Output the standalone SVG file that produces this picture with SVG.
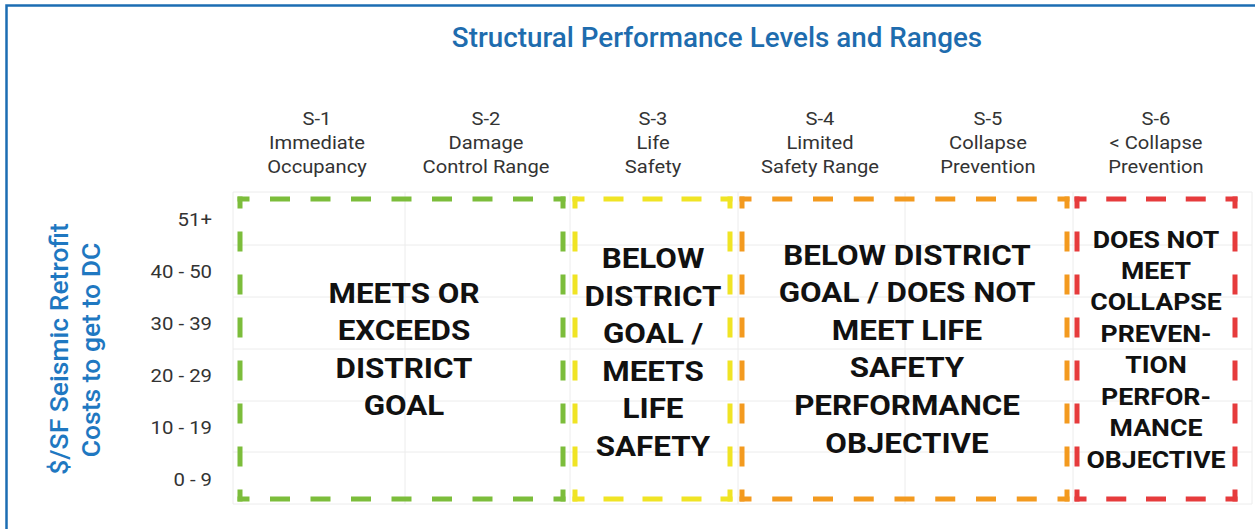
<svg xmlns="http://www.w3.org/2000/svg" width="1255" height="529" viewBox="0 0 1255 529">
<style>
.frame{fill:none;stroke:#1c6db3;stroke-width:2.5}
.title{font-family:Roboto,"Liberation Sans",sans-serif;font-weight:500;font-size:27.8px;fill:#1e6cae}
.ylab{font-family:Roboto,"Liberation Sans",sans-serif;font-weight:500;font-size:26.5px;fill:#1f78c1}
.hdr{font-family:Roboto,"Liberation Sans",sans-serif;font-size:18.5px;fill:#333;text-anchor:middle}
.row{font-family:Roboto,"Liberation Sans",sans-serif;font-size:18.5px;fill:#333;text-anchor:end}
.big{font-family:Roboto,"Liberation Sans",sans-serif;font-weight:700;font-size:28.5px;fill:#111;text-anchor:middle}
.med{font-family:Roboto,"Liberation Sans",sans-serif;font-weight:700;font-size:24.5px;fill:#111;text-anchor:middle}
.grid line{stroke:#ececec;stroke-width:1}
.b{stroke-width:5;fill:none}
.g{stroke:#7cbd3b}.y{stroke:#f0e424}.o{stroke:#f39a1f}.r{stroke:#e63b3c}
</style>
<rect class="frame" x="6.5" y="5.5" width="1260" height="540"/>
<text class="title" x="717" y="47" text-anchor="middle">Structural Performance Levels and Ranges</text>
<g id="ylabel" class="ylab" text-anchor="middle">
<text transform="translate(68,349) rotate(-90)">$/SF Seismic Retrofit</text>
<text transform="translate(100,350) rotate(-90)">Costs to get to DC</text>
</g>
<g id="headers" class="hdr">
<text transform="translate(317 0) scale(1.09 1)"><tspan x="0" y="125">S-1</tspan><tspan x="0" y="149">Immediate</tspan><tspan x="0" y="173">Occupancy</tspan></text>
<text transform="translate(486 0) scale(1.09 1)"><tspan x="0" y="125">S-2</tspan><tspan x="0" y="149">Damage</tspan><tspan x="0" y="173">Control Range</tspan></text>
<text transform="translate(653 0) scale(1.09 1)"><tspan x="0" y="125">S-3</tspan><tspan x="0" y="149">Life</tspan><tspan x="0" y="173">Safety</tspan></text>
<text transform="translate(820 0) scale(1.09 1)"><tspan x="0" y="125">S-4</tspan><tspan x="0" y="149">Limited</tspan><tspan x="0" y="173">Safety Range</tspan></text>
<text transform="translate(988 0) scale(1.09 1)"><tspan x="0" y="125">S-5</tspan><tspan x="0" y="149">Collapse</tspan><tspan x="0" y="173">Prevention</tspan></text>
<text transform="translate(1156 0) scale(1.09 1)"><tspan x="0" y="125">S-6</tspan><tspan x="0" y="149">&lt; Collapse</tspan><tspan x="0" y="173">Prevention</tspan></text>
</g>
<g id="rows" class="row">
<text transform="translate(212 0) scale(1.1 1)"><tspan x="0" y="226">51+</tspan><tspan x="0" y="278">40 - 50</tspan><tspan x="0" y="330">30 - 39</tspan><tspan x="0" y="382">20 - 29</tspan><tspan x="0" y="434">10 - 19</tspan><tspan x="0" y="486">0 - 9</tspan></text>
</g>
<g id="grid" class="grid">
<line x1="233" y1="192" x2="1252" y2="192"/>
<line x1="233" y1="245" x2="1252" y2="245"/>
<line x1="233" y1="297" x2="1252" y2="297"/>
<line x1="233" y1="349" x2="1252" y2="349"/>
<line x1="233" y1="401" x2="1252" y2="401"/>
<line x1="233" y1="452" x2="1252" y2="452"/>
<line x1="233" y1="504" x2="1252" y2="504"/>
<line x1="233" y1="192" x2="233" y2="504"/>
<line x1="405" y1="192" x2="405" y2="504"/>
<line x1="570" y1="192" x2="570" y2="504"/>
<line x1="738" y1="192" x2="738" y2="504"/>
<line x1="905" y1="192" x2="905" y2="504"/>
<line x1="1073" y1="192" x2="1073" y2="504"/>
<line x1="1252" y1="192" x2="1252" y2="504"/>
</g>
<g id="connectors"></g>
<g id="box-green">
<g class="b g">
<line x1="237.5" y1="199" x2="565.5" y2="199" stroke-dasharray="20 20.5" stroke-dashoffset="8"/>
<line x1="237.5" y1="499" x2="565.5" y2="499" stroke-dasharray="20 20.5" stroke-dashoffset="8"/>
<line x1="240" y1="196.5" x2="240" y2="501.5" stroke-dasharray="20 23" stroke-dashoffset="8"/>
<line x1="563" y1="196.5" x2="563" y2="501.5" stroke-dasharray="20 23" stroke-dashoffset="8"/>
</g>
<text class="big" transform="translate(404 0) scale(1.1 1)"><tspan x="0" y="303">MEETS OR</tspan><tspan x="0" y="340">EXCEEDS</tspan><tspan x="0" y="378">DISTRICT</tspan><tspan x="0" y="415">GOAL</tspan></text>
</g>
<g id="box-yellow">
<g class="b y">
<line x1="572.5" y1="199" x2="732.5" y2="199" stroke-dasharray="20 19" stroke-dashoffset="8"/>
<line x1="572.5" y1="499" x2="732.5" y2="499" stroke-dasharray="20 19" stroke-dashoffset="8"/>
<line x1="575" y1="196.5" x2="575" y2="501.5" stroke-dasharray="20 23" stroke-dashoffset="8"/>
<line x1="730" y1="196.5" x2="730" y2="501.5" stroke-dasharray="20 23" stroke-dashoffset="8"/>
</g>
<text class="big" transform="translate(653 0) scale(1.1 1)"><tspan x="0" y="268">BELOW</tspan><tspan x="0" y="306">DISTRICT</tspan><tspan x="0" y="343">GOAL /</tspan><tspan x="0" y="381">MEETS</tspan><tspan x="0" y="418">LIFE</tspan><tspan x="0" y="456">SAFETY</tspan></text>
</g>
<g id="box-orange">
<g class="b o">
<line x1="739.5" y1="199" x2="1069.5" y2="199" stroke-dasharray="20 20.75" stroke-dashoffset="8"/>
<line x1="739.5" y1="499" x2="1069.5" y2="499" stroke-dasharray="20 20.75" stroke-dashoffset="8"/>
<line x1="742" y1="196.5" x2="742" y2="501.5" stroke-dasharray="20 23" stroke-dashoffset="8"/>
<line x1="1067" y1="196.5" x2="1067" y2="501.5" stroke-dasharray="20 23" stroke-dashoffset="8"/>
</g>
<text class="big" transform="translate(907 0) scale(1.1 1)"><tspan x="0" y="265">BELOW DISTRICT</tspan><tspan x="0" y="302">GOAL / DOES NOT</tspan><tspan x="0" y="340">MEET LIFE</tspan><tspan x="0" y="377">SAFETY</tspan><tspan x="0" y="415">PERFORMANCE</tspan><tspan x="0" y="453">OBJECTIVE</tspan></text>
</g>
<g id="box-red">
<g class="b r">
<line x1="1074.5" y1="199" x2="1237.5" y2="199" stroke-dasharray="20 19.75" stroke-dashoffset="8"/>
<line x1="1074.5" y1="499" x2="1237.5" y2="499" stroke-dasharray="20 19.75" stroke-dashoffset="8"/>
<line x1="1077" y1="196.5" x2="1077" y2="501.5" stroke-dasharray="20 23" stroke-dashoffset="8"/>
<line x1="1235" y1="196.5" x2="1235" y2="501.5" stroke-dasharray="20 23" stroke-dashoffset="8"/>
</g>
<text class="med" transform="translate(1156 0) scale(1.09 1)"><tspan x="0" y="248">DOES NOT</tspan><tspan x="0" y="279">MEET</tspan><tspan x="0" y="310">COLLAPSE</tspan><tspan x="0" y="342">PREVEN-</tspan><tspan x="0" y="373">TION</tspan><tspan x="0" y="405">PERFOR-</tspan><tspan x="0" y="436">MANCE</tspan><tspan x="0" y="468">OBJECTIVE</tspan></text>
</g>
</svg>
